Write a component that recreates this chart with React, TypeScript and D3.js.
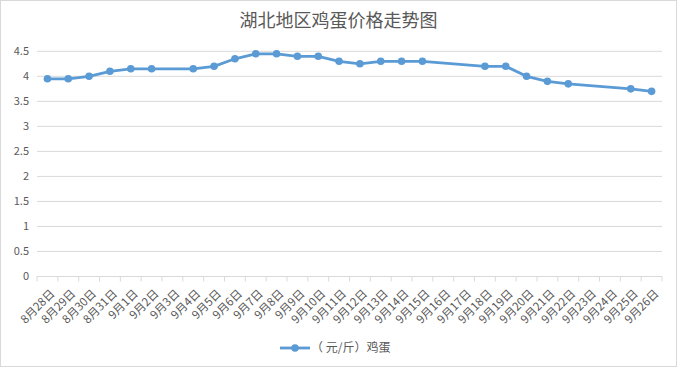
import React from "react";
import * as d3 from "d3";

const categories = [
  "8月28日","8月29日","8月30日","8月31日","9月1日","9月2日","9月3日","9月4日","9月5日","9月6日",
  "9月7日","9月8日","9月9日","9月10日","9月11日","9月12日","9月13日","9月14日","9月15日","9月16日",
  "9月17日","9月18日","9月19日","9月20日","9月21日","9月22日","9月23日","9月24日","9月25日","9月26日",
];
const eggPrice: (number | null)[] = [
  3.95, 3.95, 4.0, 4.1, 4.15, 4.15, null, 4.15, 4.2, 4.35,
  4.45, 4.45, 4.4, 4.4, 4.3, 4.25, 4.3, 4.3, 4.3, null,
  null, 4.2, 4.2, 4.0, 3.9, 3.85, null, null, 3.75, 3.7,
];
const yTicks = [0, 0.5, 1, 1.5, 2, 2.5, 3, 3.5, 4, 4.5];
const title = "湖北地区鸡蛋价格走势图";
const seriesName = "（ 元/斤）鸡蛋";

const W = 677, H = 367;
const FONT = "'Noto Sans CJK SC', 'Microsoft YaHei', sans-serif";
const COLOR = "#5b9bd5";

export default function App() {
  const left = 37, right = 662, top = 51.3, bottom = 276.5;
  const x = d3.scaleBand<string>().domain(categories).range([left, right]);
  const y = d3.scaleLinear().domain([0, 4.5]).range([bottom, top]);
  const pts = categories
    .map((c, i) => ({ c, v: eggPrice[i] }))
    .filter((d) => d.v !== null) as { c: string; v: number }[];
  const cx = (c: string) => (x(c) ?? 0) + x.bandwidth() / 2;
  const line = d3.line<{ c: string; v: number }>().x((d) => cx(d.c)).y((d) => y(d.v));
  const boundaries = categories.map((c) => x(c) ?? 0).concat([right]);

  return (
    <svg width={W} height={H} style={{ position: "fixed", left: 0, top: 0, background: "#fff" }} fontFamily={FONT}>
      <rect x={0.5} y={0.5} width={W - 1} height={H - 1} fill="#fff" stroke="#d9d9d9" />
      <text x={W / 2} y={27} textAnchor="middle" fontSize={18} fill="#595959">{title}</text>
      {yTicks.map((t) => (
        <g key={t}>
          <line x1={left} x2={right} y1={y(t)} y2={y(t)} stroke="#d9d9d9" strokeWidth={1} />
          <text x={29} y={y(t)} dy="0.35em" textAnchor="end" fontSize={11} fill="#595959">{t}</text>
        </g>
      ))}
      {boundaries.map((b, i) => (
        <line key={i} x1={b} x2={b} y1={bottom} y2={bottom + 5} stroke="#d9d9d9" />
      ))}
      {categories.map((c) => (
        <text key={c} transform={`translate(${cx(c) + 5},${bottom + 15}) rotate(-45)`} textAnchor="end" dy="0.35em" fontSize={11.5} fill="#595959">{c}</text>
      ))}
      <path d={line(pts) ?? ""} fill="none" stroke={COLOR} strokeWidth={2.8} strokeLinejoin="round" strokeLinecap="round" />
      {pts.map((d) => (
        <circle key={d.c} cx={cx(d.c)} cy={y(d.v)} r={3.8} fill={COLOR} />
      ))}
      <line x1={280} x2={310} y1={348} y2={348} stroke={COLOR} strokeWidth={2.8} />
      <circle cx={295} cy={348} r={3.8} fill={COLOR} />
      <text x={311} y={348} dy="0.35em" fontSize={12} fill="#595959">{seriesName}</text>
    </svg>
  );
}
